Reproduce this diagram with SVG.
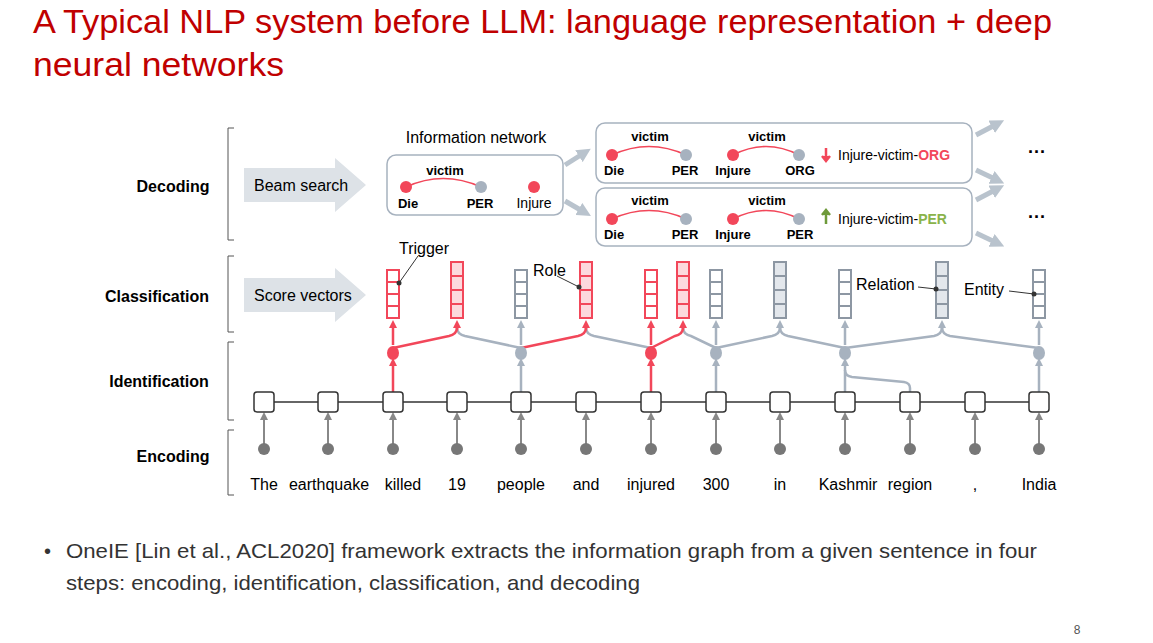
<svg xmlns="http://www.w3.org/2000/svg" width="1153" height="643" viewBox="0 0 1153 643">
<defs>
<marker id="ag" markerWidth="8" markerHeight="8" refX="4" refY="4" orient="auto" markerUnits="userSpaceOnUse"><path d="M0,0 L8,4 L0,8 Z" fill="#a7b2bf"/></marker>
<marker id="ar" markerWidth="8" markerHeight="8" refX="4" refY="4" orient="auto" markerUnits="userSpaceOnUse"><path d="M0,0 L8,4 L0,8 Z" fill="#f2475a"/></marker>
<marker id="ad" markerWidth="8" markerHeight="8" refX="4" refY="4" orient="auto" markerUnits="userSpaceOnUse"><path d="M0,0 L8,4 L0,8 Z" fill="#888"/></marker>
<marker id="ab" markerWidth="14" markerHeight="14" refX="6" refY="7" orient="auto" markerUnits="userSpaceOnUse"><path d="M0,0 L14,7 L0,14 Z" fill="#b9c3cd"/></marker>
</defs>
<style>
text{font-family:"Liberation Sans",Arial,sans-serif}
.t{font-size:16px;fill:#000}
.b{font-size:16px;font-weight:bold;fill:#000}
.s{font-size:14px;fill:#000}
.sb{font-size:13px;font-weight:bold;fill:#000}
.g{stroke:#a7b2bf;stroke-width:2.5;fill:none}
.r{stroke:#f2475a;stroke-width:2.5;fill:none}
.box{fill:#fff;stroke:#333;stroke-width:1.5}
.vr{fill:#fff;stroke:#f2475a;stroke-width:2}
.vrf{fill:#fcd9dd;stroke:#f2475a;stroke-width:2}
.vg{fill:#fff;stroke:#8d97a3;stroke-width:2}
.vgf{fill:#e3e7ec;stroke:#8d97a3;stroke-width:2}
.rd{fill:#f2475a}
.gd{fill:#a7b2bf}
.net{fill:#fff;stroke:#a7b2bf;stroke-width:1.5}
.br{stroke:#555;stroke-width:1;fill:none}
.big{stroke:#b9c3cd;stroke-width:5;fill:none}
</style>
<text x="33" y="33" font-size="33" fill="#c00000" textLength="1019" lengthAdjust="spacingAndGlyphs">A Typical NLP system before LLM: language representation + deep</text>
<text x="33" y="76" font-size="33" fill="#c00000" textLength="251" lengthAdjust="spacingAndGlyphs">neural networks</text>

<g id="stages">
<path class="br" d="M234,128 H228 V240 H234 M234,256 H228 V332 H234 M234,342 H228 V420 H234 M234,430 H228 V495 H234"/>
<text class="b" x="173" y="192" text-anchor="middle">Decoding</text>
<text class="b" x="157" y="302" text-anchor="middle">Classification</text>
<text class="b" x="159" y="387" text-anchor="middle">Identification</text>
<text class="b" x="173" y="462" text-anchor="middle">Encoding</text>
</g>
<g id="beam">
<path d="M244,168 H335 V158 L366,185 L335,212 V202 H244 Z" fill="#dde2e7"/>
<text class="t" x="254" y="191" font-size="15">Beam search</text>
</g>
<g id="score">
<path d="M244,278 H335 V268 L366,295 L335,322 V312 H244 Z" fill="#dde2e7"/>
<text class="t" x="254" y="301" font-size="15">Score vectors</text>
</g>

<g id="infonet">
<text class="t" x="476" y="143" text-anchor="middle">Information network</text>
<rect class="net" x="387" y="155" width="176" height="60" rx="9"/>
<text class="sb" x="445" y="175" text-anchor="middle">victim</text>
<path d="M406,187 Q443,170 481,187" stroke="#f2475a" stroke-width="1.5" fill="none"/>
<circle class="rd" cx="406" cy="187" r="6"/><circle class="gd" cx="481" cy="187" r="6"/><circle class="rd" cx="534" cy="187" r="6"/>
<text class="sb" x="408" y="208" text-anchor="middle">Die</text>
<text class="sb" x="480" y="208" text-anchor="middle">PER</text>
<text class="s" x="534" y="208" text-anchor="middle" font-size="13">Injure</text>
</g>

<g id="beam1">
<rect class="net" x="596" y="123" width="376" height="60" rx="9"/>
<text class="sb" x="650" y="141" text-anchor="middle">victim</text>
<path d="M612,155 Q649,138 686,155" stroke="#f2475a" stroke-width="1.5" fill="none"/>
<circle class="rd" cx="612" cy="155" r="6"/><circle class="gd" cx="686" cy="155" r="6"/>
<text class="sb" x="614" y="175" text-anchor="middle">Die</text>
<text class="sb" x="685" y="175" text-anchor="middle">PER</text>
<text class="sb" x="767" y="141" text-anchor="middle">victim</text>
<path d="M733,155 Q766,138 799,155" stroke="#f2475a" stroke-width="1.5" fill="none"/>
<circle class="rd" cx="733" cy="155" r="6"/><circle class="gd" cx="799" cy="155" r="6"/>
<text class="sb" x="733" y="175" text-anchor="middle">Injure</text>
<text class="sb" x="800" y="175" text-anchor="middle">ORG</text>
<path d="M826,148 V157 M822,156 L826,161 L830,156" stroke="#f2475a" stroke-width="2.5" fill="#f2475a"/>
<text class="s" x="838" y="160">Injure-victim-<tspan fill="#f2475a" font-weight="bold">ORG</tspan></text>
</g>
<g id="beam2">
<rect class="net" x="596" y="188" width="376" height="58" rx="9"/>
<text class="sb" x="650" y="205" text-anchor="middle">victim</text>
<path d="M612,219 Q649,202 686,219" stroke="#f2475a" stroke-width="1.5" fill="none"/>
<circle class="rd" cx="612" cy="219" r="6"/><circle class="gd" cx="686" cy="219" r="6"/>
<text class="sb" x="614" y="239" text-anchor="middle">Die</text>
<text class="sb" x="685" y="239" text-anchor="middle">PER</text>
<text class="sb" x="767" y="205" text-anchor="middle">victim</text>
<path d="M733,219 Q766,202 799,219" stroke="#f2475a" stroke-width="1.5" fill="none"/>
<circle class="rd" cx="733" cy="219" r="6"/><circle class="gd" cx="799" cy="219" r="6"/>
<text class="sb" x="733" y="239" text-anchor="middle">Injure</text>
<text class="sb" x="800" y="239" text-anchor="middle">PER</text>
<path d="M826,224 V214 M822,215 L826,210 L830,215" stroke="#6e9a3a" stroke-width="2.5" fill="#6e9a3a"/>
<text class="s" x="838" y="224">Injure-victim-<tspan fill="#8ab34a" font-weight="bold">PER</tspan></text>
</g>
<text x="1037" y="158" text-anchor="middle" font-size="18" font-weight="bold">···</text>
<text x="1037" y="223" text-anchor="middle" font-size="18" font-weight="bold">···</text>

<g id="beam-arrows">
<path class="big" d="M565,165 L584,153" marker-end="url(#ab)"/>
<path class="big" d="M565,201 L584,212" marker-end="url(#ab)"/>
<path class="big" d="M976,135 L997,124" marker-end="url(#ab)"/>
<path class="big" d="M976,170 L997,180" marker-end="url(#ab)"/>
<path class="big" d="M976,200 L997,189" marker-end="url(#ab)"/>
<path class="big" d="M976,233 L997,243" marker-end="url(#ab)"/>
</g>

<g id="connectors">
<g stroke="#888" stroke-width="2" marker-end="url(#ad)">
<path d="M264,444 V416"/><path d="M328,444 V416"/><path d="M393,444 V416"/><path d="M457,444 V416"/><path d="M521,444 V416"/><path d="M586,444 V416"/><path d="M651,444 V416"/><path d="M716,444 V416"/><path d="M780,444 V416"/><path d="M845,444 V416"/><path d="M910,444 V416"/><path d="M975,444 V416"/><path d="M1039,444 V416"/>
</g>
<path d="M264,402 H1039" stroke="#333" stroke-width="1.5"/>
<path class="r" d="M393,392 V362" marker-end="url(#ar)"/>
<path class="r" d="M651,392 V362" marker-end="url(#ar)"/>
<path class="g" d="M521,392 V362" marker-end="url(#ag)"/>
<path class="g" d="M716,392 V362" marker-end="url(#ag)"/>
<path class="g" d="M845,392 V362" marker-end="url(#ag)"/>
<path class="g" d="M1039,392 V362" marker-end="url(#ag)"/>
<path class="g" d="M910,392 V388 Q910,383 904,382 L852,377 Q845,376 845,370"/>
<path class="r" d="M393,345 V324" marker-end="url(#ar)"/>
<path class="r" d="M651,345 V324" marker-end="url(#ar)"/>
<path class="g" d="M521,345 V324" marker-end="url(#ag)"/>
<path class="g" d="M716,345 V324" marker-end="url(#ag)"/>
<path class="g" d="M845,345 V324" marker-end="url(#ag)"/>
<path class="g" d="M1039,345 V324" marker-end="url(#ag)"/>
<path class="g" d="M521,348 L465,336 Q457,334 457,328"/>
<path class="g" d="M651,348 L594,336 Q586,334 586,328"/>
<path class="g" d="M716,348 L691,336 Q683,334 683,328"/>
<path class="g" d="M716,348 L772,336 Q780,334 780,328"/>
<path class="g" d="M845,348 L788,336 Q780,334 780,328"/>
<path class="g" d="M845,348 L934,336 Q942,334 942,328"/>
<path class="g" d="M1039,348 L950,336 Q942,334 942,328"/>
<path class="r" d="M393,348 L449,336 Q457,334 457,328"/>
<path class="r" d="M521,348 L578,336 Q586,334 586,328"/>
<path class="r" d="M651,348 L675,336 Q683,334 683,328"/>
<path class="r" d="M457,330 V324" marker-end="url(#ar)"/>
<path class="r" d="M586,330 V324" marker-end="url(#ar)"/>
<path class="r" d="M683,330 V324" marker-end="url(#ar)"/>
<path class="g" d="M780,330 V324" marker-end="url(#ag)"/>
<path class="g" d="M942,330 V324" marker-end="url(#ag)"/>
<g stroke="#333" stroke-width="1"><path d="M418,256 L399,283"/><path d="M557,276 L579,287"/><path d="M918,287 L936,289"/><path d="M1009,291 L1034,294"/></g>
</g>

<g id="ident-nodes">
<ellipse class="rd" cx="393" cy="353" rx="6" ry="7"/><ellipse class="rd" cx="651" cy="353" rx="6" ry="7"/>
<ellipse class="gd" cx="521" cy="353" rx="6" ry="7"/><ellipse class="gd" cx="716" cy="353" rx="6" ry="7"/><ellipse class="gd" cx="845" cy="353" rx="6" ry="7"/><ellipse class="gd" cx="1039" cy="353" rx="6" ry="7"/>
</g>

<g id="vectors">
<g class="vr"><rect x="387" y="270" width="12" height="48"/><path d="M387,282 H399 M387,294 H399 M387,306 H399"/></g>
<g class="vrf"><rect x="451" y="262" width="12" height="56"/><path d="M451,276 H463 M451,290 H463 M451,304 H463"/></g>
<g class="vg"><rect x="515" y="270" width="12" height="48"/><path d="M515,282 H527 M515,294 H527 M515,306 H527"/></g>
<g class="vrf"><rect x="580" y="262" width="12" height="56"/><path d="M580,276 H592 M580,290 H592 M580,304 H592"/></g>
<g class="vr"><rect x="645" y="270" width="12" height="48"/><path d="M645,282 H657 M645,294 H657 M645,306 H657"/></g>
<g class="vrf"><rect x="677" y="262" width="12" height="56"/><path d="M677,276 H689 M677,290 H689 M677,304 H689"/></g>
<g class="vg"><rect x="710" y="270" width="12" height="48"/><path d="M710,282 H722 M710,294 H722 M710,306 H722"/></g>
<g class="vgf"><rect x="774" y="262" width="12" height="56"/><path d="M774,276 H786 M774,290 H786 M774,304 H786"/></g>
<g class="vg"><rect x="839" y="270" width="12" height="48"/><path d="M839,282 H851 M839,294 H851 M839,306 H851"/></g>
<g class="vgf"><rect x="936" y="262" width="12" height="56"/><path d="M936,276 H948 M936,290 H948 M936,304 H948"/></g>
<g class="vg"><rect x="1033" y="270" width="12" height="48"/><path d="M1033,282 H1045 M1033,294 H1045 M1033,306 H1045"/></g>
<g fill="#333"><circle cx="399" cy="283" r="2.5"/><circle cx="579" cy="287" r="2.5"/><circle cx="936" cy="289" r="2.5"/><circle cx="1034" cy="294" r="2.5"/></g>
<text class="t" x="399" y="254">Trigger</text>
<text class="t" x="533" y="276">Role</text>
<text class="t" x="856" y="290">Relation</text>
<text class="t" x="964" y="295">Entity</text>
</g>

<g id="tokens">
<g class="box">
<rect x="254" y="392" width="20" height="20" rx="3"/><rect x="318" y="392" width="20" height="20" rx="3"/><rect x="383" y="392" width="20" height="20" rx="3"/><rect x="447" y="392" width="20" height="20" rx="3"/><rect x="511" y="392" width="20" height="20" rx="3"/><rect x="576" y="392" width="20" height="20" rx="3"/><rect x="641" y="392" width="20" height="20" rx="3"/><rect x="706" y="392" width="20" height="20" rx="3"/><rect x="770" y="392" width="20" height="20" rx="3"/><rect x="835" y="392" width="20" height="20" rx="3"/><rect x="900" y="392" width="20" height="20" rx="3"/><rect x="965" y="392" width="20" height="20" rx="3"/><rect x="1029" y="392" width="20" height="20" rx="3"/>
</g>
<g fill="#777">
<circle cx="264" cy="449" r="6"/><circle cx="328" cy="449" r="6"/><circle cx="393" cy="449" r="6"/><circle cx="457" cy="449" r="6"/><circle cx="521" cy="449" r="6"/><circle cx="586" cy="449" r="6"/><circle cx="651" cy="449" r="6"/><circle cx="716" cy="449" r="6"/><circle cx="780" cy="449" r="6"/><circle cx="845" cy="449" r="6"/><circle cx="910" cy="449" r="6"/><circle cx="975" cy="449" r="6"/><circle cx="1039" cy="449" r="6"/>
</g>
<g class="t" text-anchor="middle">
<text x="264" y="490">The</text><text x="329" y="490">earthquake</text><text x="403" y="490">killed</text><text x="457" y="490">19</text><text x="521" y="490">people</text><text x="586" y="490">and</text><text x="651" y="490">injured</text><text x="716" y="490">300</text><text x="780" y="490">in</text><text x="848" y="490">Kashmir</text><text x="910" y="490">region</text><text x="975" y="490">,</text><text x="1039" y="490">India</text>
</g>
</g>

<g id="bullet">
<text x="44" y="558" font-size="20" fill="#333">•</text>
<text x="66" y="558" font-size="21" fill="#333" textLength="971" lengthAdjust="spacingAndGlyphs">OneIE [Lin et al., ACL2020] framework extracts the information graph from a given sentence in four</text>
<text x="66" y="590" font-size="21" fill="#333" textLength="574" lengthAdjust="spacingAndGlyphs">steps: encoding, identification, classification, and decoding</text>
<text x="1077" y="634" font-size="12" fill="#555" text-anchor="middle">8</text>
</g>
</svg>
